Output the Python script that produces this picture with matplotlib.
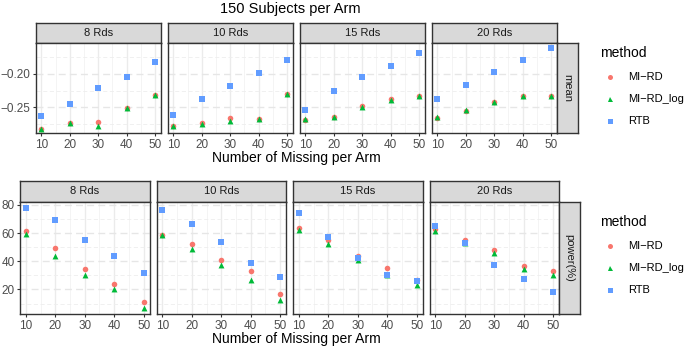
import matplotlib
matplotlib.use("Agg")
import matplotlib.pyplot as plt
from matplotlib.ticker import MultipleLocator

plt.rcParams["font.family"] = ["Liberation Sans", "DejaVu Sans"]

# data
missing = [10, 20, 30, 40, 50]
rounds = ["8 Rds", "10 Rds", "15 Rds", "20 Rds"]
methods = ["MI-RD", "MI-RD_log", "RTB"]

mean_mird = [
    [-0.2815, -0.2726, -0.2712, -0.2506, -0.2315],
    [-0.2770, -0.2731, -0.2657, -0.2668, -0.2304],
    [-0.2687, -0.2643, -0.2485, -0.2382, -0.2324],
    [-0.2653, -0.2554, -0.2418, -0.2334, -0.2334],
]
mean_mird_log = [
    [-0.2819, -0.2731, -0.2775, -0.2510, -0.2320],
    [-0.2775, -0.2741, -0.2697, -0.2677, -0.2300],
    [-0.2672, -0.2643, -0.2500, -0.2388, -0.2330],
    [-0.2648, -0.2544, -0.2418, -0.2338, -0.2334],
]
mean_rtb = [
    [-0.2624, -0.2447, -0.2206, -0.2054, -0.1834],
    [-0.2613, -0.2382, -0.2182, -0.1994, -0.1794],
    [-0.2535, -0.2256, -0.2050, -0.1882, -0.1696],
    [-0.2382, -0.2168, -0.1970, -0.1794, -0.1622],
]

power_mird = [
    [61.1, 49.3, 34.2, 24.0, 11.0],
    [58.7, 51.9, 40.6, 32.8, 16.7],
    [63.3, 55.0, 43.4, 34.9, 26.6],
    [62.6, 55.0, 47.9, 36.8, 33.0],
]
power_mird_log = [
    [59.2, 43.4, 30.6, 20.4, 7.0],
    [58.3, 48.6, 37.0, 26.4, 12.2],
    [62.0, 52.1, 41.0, 30.2, 23.0],
    [61.4, 53.1, 45.5, 34.6, 30.0],
]
power_rtb = [
    [77.8, 69.6, 55.2, 43.6, 31.8],
    [76.6, 66.5, 53.5, 38.7, 28.5],
    [73.9, 56.9, 42.2, 30.4, 25.9],
    [64.9, 53.1, 37.0, 27.3, 17.9],
]

colors = {"MI-RD": "#F8766D", "MI-RD_log": "#00BA38", "RTB": "#619CFF"}
markers = {"MI-RD": "o", "MI-RD_log": "^", "RTB": "s"}
msize = {"MI-RD": 16, "MI-RD_log": 18, "RTB": 16}

W, H = 685, 347
fig = plt.figure(figsize=(W / 100, H / 100), dpi=100)


def px_axes(x0, y0, w, h, **kw):
    return fig.add_axes([x0 / W, 1 - (y0 + h) / H, w / W, h / H], **kw)


def strip(x0, y0, w, h, label, rot=0):
    s = px_axes(x0, y0, w, h, facecolor="#D9D9D9")
    s.set_xticks([])
    s.set_yticks([])
    for sp in s.spines.values():
        sp.set_color("#333333")
        sp.set_linewidth(1.0)
    s.text(0.5, 0.5, label, ha="center", va="center", rotation=rot,
           fontsize=8, color="#1A1A1A", transform=s.transAxes)


def draw_row(top, strip_h, panel_h, left, pw, gap, series, ylim, ymaj, ymin,
             yfmt, side_label):
    axes = []
    for i, r in enumerate(rounds):
        x0 = left + i * (pw + gap)
        strip(x0, top, pw, strip_h, r)
        ax = px_axes(x0, top + strip_h, pw, panel_h, facecolor="white")
        ax.set_xlim(8, 52)
        ax.set_ylim(*ylim)
        ax.xaxis.set_major_locator(MultipleLocator(10))
        ax.xaxis.set_minor_locator(MultipleLocator(5))
        ax.yaxis.set_major_locator(MultipleLocator(ymaj))
        ax.yaxis.set_minor_locator(MultipleLocator(ymin))
        ax.grid(axis="x", which="major", color="#EBEBEB", lw=1.0)
        ax.grid(axis="x", which="minor", color="#F2F2F2", lw=0.6)
        ax.grid(axis="y", which="major", color="#E6E6E6", lw=1.0, ls=(0, (5, 3)))
        ax.grid(axis="y", which="minor", color="#EEEEEE", lw=0.6, ls=(0, (5, 3)))
        ax.set_axisbelow(True)
        for sp in ax.spines.values():
            sp.set_color("#333333")
            sp.set_linewidth(1.0)
        ax.tick_params(which="major", length=2.5, width=0.8, color="#333333",
                       labelsize=8.5, labelcolor="#4D4D4D", pad=1.5)
        ax.tick_params(which="minor", length=0)
        for m in methods:
            ax.scatter(missing, series[m][i], s=msize[m], marker=markers[m],
                       color=colors[m], linewidths=0, zorder=3)
        if i == 0:
            ax.yaxis.set_major_formatter(yfmt)
        else:
            ax.tick_params(axis="y", labelleft=False, length=0)
        axes.append(ax)
    x_end = left + 4 * pw + 3 * gap
    strip(x_end, top + strip_h, 21, panel_h, side_label, rot=270)
    return axes


top_series = {"MI-RD": mean_mird, "MI-RD_log": mean_mird_log, "RTB": mean_rtb}
bot_series = {"MI-RD": power_mird, "MI-RD_log": power_mird_log, "RTB": power_rtb}

fmt_top = lambda v, p: f"{v:.2f}".replace("-", "\u2212")
fmt_bot = lambda v, p: f"{v:.0f}"

draw_row(22.7, 20.6, 89.7, 35.7, 125, 7, top_series, (-0.288, -0.155),
         0.05, 0.025, plt.FuncFormatter(fmt_top), "mean")
draw_row(180.7, 21.6, 111.7, 20, 129.5, 7, bot_series, (2.6, 81.8),
         20, 10, plt.FuncFormatter(fmt_bot), "power(%)")

fig.text(290 / W, 1 - 9 / H, "150 Subjects per Arm", ha="center", va="center",
         fontsize=10.5, color="black")
fig.text(296 / W, 1 - 158 / H, "Number of Missing per Arm", ha="center",
         va="center", fontsize=10, color="black")
fig.text(296 / W, 1 - 338.5 / H, "Number of Missing per Arm", ha="center",
         va="center", fontsize=10, color="black")

# legends
for title_y, ys in [(53, [77, 99, 121]), (222, [246, 268, 290])]:
    fig.text(600 / W, 1 - title_y / H, "method", ha="left", va="center",
             fontsize=10, color="black")
    for m, yy in zip(methods, ys):
        fig.add_artist(plt.Line2D([610 / W], [1 - yy / H], marker=markers[m],
                                  color=colors[m], markersize=3.6, lw=0,
                                  markeredgewidth=0))
        fig.text(628 / W, 1 - yy / H, m.replace("-", "\u2212"), ha="left",
                 va="center", fontsize=8, color="black")

fig.savefig("out.png", dpi=100)
